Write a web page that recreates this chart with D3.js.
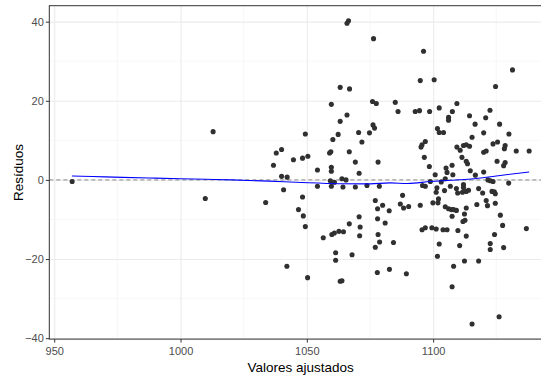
<!DOCTYPE html>
<html>
<head>
<meta charset="utf-8">
<script src="https://cdn.jsdelivr.net/npm/d3@7"></script>
<style>
  body { margin: 0; background: #fff; }
  svg { display: block; font-family: "Liberation Sans", Arial, sans-serif; }
</style>
</head>
<body>
<div id="residuos"></div>
<script>
const canvasWidth = 541
const canvasHeight = 378

// valores ajustados (x) e residuos (y)
const fitted = [
  957.1, 1009.8, 1012.9, 1049.4, 1062.4, 1060.3, 1040.0, 1037.9, 1059.0, 1059.5,
  1050.4, 1048.3, 1044.7, 1036.8, 1059.7, 1059.7, 1054.2, 1040.0, 1042.2, 1059.3,
  1060.9, 1054.2, 1059.7, 1040.8, 1048.3, 1033.7, 1046.7, 1048.6, 1049.4, 1056.5,
  1059.9, 1060.9, 1062.7, 1042.1, 1050.3, 1061.4, 1061.4, 1063.2, 1063.2, 1059.7,
  1063.2, 1065.9, 1066.5, 1076.4, 1096.2, 1066.9, 1094.9, 1100.4, 1076.0, 1077.5,
  1085.0, 1065.9, 1086.1, 1092.9, 1094.6, 1098.6, 1102.4, 1076.2, 1076.8, 1101.7,
  1070.5, 1074.8, 1071.8, 1066.8, 1096.9, 1095.6, 1095.2, 1102.4, 1104.1, 1096.5,
  1069.2, 1078.2, 1098.5, 1070.7, 1100.8, 1063.9, 1065.5, 1064.3, 1069.2, 1073.8,
  1078.7, 1095.8, 1096.9, 1098.9, 1101.2, 1087.9, 1102.1, 1077.1, 1080.0, 1087.0,
  1088.3, 1090.3, 1094.9, 1099.9, 1078.0, 1082.6, 1070.7, 1078.0, 1081.0, 1066.8,
  1071.1, 1064.5, 1070.9, 1078.2, 1095.6, 1096.9, 1099.5, 1101.2, 1078.8, 1084.3,
  1077.1, 1102.4, 1067.9, 1063.9, 1077.9, 1082.7, 1089.4, 1101.7, 1131.4, 1124.7,
  1109.4, 1107.6, 1106.1, 1106.1, 1114.4, 1116.6, 1120.8, 1122.5, 1126.3, 1120.0,
  1130.0, 1115.4, 1109.4, 1110.7, 1112.0, 1113.1, 1114.4, 1123.7, 1125.5, 1128.5,
  1128.2, 1132.9, 1138.0, 1120.0, 1121.0, 1111.4, 1113.1, 1113.6, 1125.3, 1128.5,
  1127.9, 1107.5, 1105.1, 1105.5, 1114.7, 1120.0, 1107.8, 1104.8, 1103.2, 1116.7,
  1121.7, 1122.6, 1123.7, 1129.9, 1106.8, 1112.0, 1112.0, 1109.2, 1101.5, 1118.0,
  1114.0, 1104.5, 1109.7, 1111.6, 1113.1, 1119.6, 1123.3, 1124.2, 1124.6, 1101.9,
  1117.3, 1121.0, 1121.5, 1124.6, 1104.8, 1106.1, 1107.2, 1108.1, 1109.2, 1113.1,
  1107.5, 1112.4, 1126.6, 1111.8, 1112.6, 1127.5, 1103.9, 1105.5, 1109.8, 1136.9,
  1113.1, 1124.3, 1110.5, 1122.6, 1122.6, 1127.9, 1108.1, 1112.4, 1118.0, 1107.5,
  1126.1, 1115.4
]

const residuals = [
  -0.4, -4.7, 12.2, 11.6, 11.5, 10.2, 7.7, 6.8, 6.8, 7.1,
  6.0, 5.5, 5.1, 3.7, 3.2, 2.2, 2.5, 0.9, 0.7, -0.2,
  -0.6, -1.6, -1.6, -2.5, -4.3, -5.7, -7.5, -9.1, -11.8, -14.6,
  -13.8, -13.4, -13.0, -21.8, -24.7, -18.4, -20.3, -25.6, 14.8, 19.1,
  23.4, 39.6, 40.2, 35.7, 32.5, 23.0, 25.1, 25.3, 19.8, 19.3,
  19.6, 16.4, 17.3, 17.3, 17.5, 17.3, 18.2, 13.9, 13.1, 13.0,
  12.0, 11.9, 9.6, 7.1, 9.7, 8.9, 8.3, 12.0, 12.0, 5.7,
  4.5, 4.5, 3.4, 1.7, 1.3, 0.3, 0.0, -1.8, -1.8, -1.4,
  -1.6, -1.4, -1.6, -0.4, -3.1, -3.9, -4.8, -5.2, -6.4, -6.1,
  -7.1, -6.7, -6.4, -5.8, -7.3, -7.8, -9.3, -9.8, -10.9, -11.1,
  -11.9, -13.1, -14.1, -13.8, -12.6, -12.1, -12.1, -12.4, -15.7, -15.8,
  -17.0, -16.2, -18.9, -25.5, -23.4, -22.6, -23.7, -19.3, 27.8, 23.6,
  19.3, 17.3, 15.8, 15.1, 16.2, 14.1, 15.7, 17.6, 14.1, 11.9,
  11.6, 10.8, 8.3, 7.5, 8.7, 8.9, 8.5, 9.1, 9.6, 8.7,
  7.9, 7.3, 7.3, 7.0, 7.3, 5.7, 4.7, 4.1, 4.7, 4.4,
  3.6, 3.7, 3.0, 1.9, 2.3, 2.0, 1.3, 0.3, -0.5, 1.2,
  0.0, -0.2, -0.4, -0.8, -1.6, -1.2, -1.9, -2.2, -2.0, -2.2,
  -2.6, -2.7, -3.3, -3.1, -2.9, -3.3, -2.9, -3.0, -3.5, -5.8,
  -6.2, -5.2, -6.5, -5.9, -6.8, -7.3, -7.5, -7.5, -7.7, -7.1,
  -9.2, -8.6, -8.9, -10.5, -10.2, -11.5, -12.6, -12.6, -12.8, -12.3,
  -14.2, -13.8, -16.6, -16.1, -17.6, -17.1, -21.8, -20.5, -20.5, -27.0,
  -34.6, -36.4
]

// curva loess (azul)
const smoothX = [957, 965, 977, 990, 1000, 1010, 1020, 1035, 1048, 1063, 1075, 1083, 1090, 1099, 1107, 1115, 1125, 1138]
const smoothY = [1.0, 0.85, 0.65, 0.45, 0.3, 0.15, 0.0, -0.3, -0.65, -0.95, -1.0, -0.75, -0.9, -0.4, -0.1, 0.25, 1.0, 2.0]

const xTicks = [950, 1000, 1050, 1100]
const xMinor = [975, 1025, 1075, 1125]
const yTicks = [-40, -20, 0, 20, 40]
const yMinor = [-30, -10, 10, 30]

const panel = { left: 49.3, top: 5.7, right: 552, bottom: 339.1 }

// expansao de 5% como no ggplot
const expand = ext => {
  const pad = (ext[1] - ext[0]) * 0.05
  return [ext[0] - pad, ext[1] + pad]
}

const x = d3.scaleLinear()
  .domain(expand(d3.extent(fitted)))
  .range([panel.left, panel.right])

const y = d3.scaleLinear()
  .domain(expand(d3.extent(residuals)))
  .range([panel.bottom, panel.top])

const svg = d3.select('#residuos')
  .append('svg')
  .attr('width', canvasWidth)
  .attr('height', canvasHeight)

svg.append('defs').append('clipPath')
  .attr('id', 'clip')
  .append('rect')
  .attr('x', panel.left)
  .attr('y', panel.top)
  .attr('width', panel.right - panel.left)
  .attr('height', panel.bottom - panel.top)

const grid = svg.append('g')

grid.selectAll('.xminor')
  .data(xMinor)
  .join('line')
  .attr('x1', d => x(d)).attr('x2', d => x(d))
  .attr('y1', panel.top).attr('y2', panel.bottom)
  .attr('stroke', '#f3f3f3')
  .attr('stroke-width', 0.7)

grid.selectAll('.yminor')
  .data(yMinor)
  .join('line')
  .attr('y1', d => y(d)).attr('y2', d => y(d))
  .attr('x1', panel.left).attr('x2', panel.right)
  .attr('stroke', '#f3f3f3')
  .attr('stroke-width', 0.7)

const xAxis = svg.append('g')
  .attr('transform', `translate(0, ${panel.bottom})`)
  .call(d3.axisBottom(x).tickValues(xTicks).tickSize(3.5).tickPadding(5).tickFormat(d3.format('d')))

const yAxis = svg.append('g')
  .attr('transform', `translate(${panel.left}, 0)`)
  .call(d3.axisLeft(y).tickValues(yTicks).tickSize(3.5).tickPadding(2))

// grade principal a partir das escalas
grid.append('g')
  .attr('transform', `translate(0, ${panel.top})`)
  .call(d3.axisBottom(x).tickValues(xTicks).tickSize(panel.bottom - panel.top).tickFormat(''))
  .call(g => g.select('.domain').remove())
  .selectAll('line')
  .attr('stroke', '#ebebeb')
  .attr('stroke-width', 1.1)

grid.append('g')
  .attr('transform', `translate(${panel.left}, 0)`)
  .call(d3.axisRight(y).tickValues(yTicks).tickSize(panel.right - panel.left).tickFormat(''))
  .call(g => g.select('.domain').remove())
  .selectAll('line')
  .attr('stroke', '#ebebeb')
  .attr('stroke-width', 1.1)

grid.selectAll('.tick text').remove()

;[xAxis, yAxis].forEach(ax => {
  ax.select('.domain').remove()
  ax.selectAll('.tick line').attr('stroke', '#333').attr('stroke-width', 1)
  ax.selectAll('.tick text')
    .attr('fill', '#4d4d4d')
    .style('font-size', '11px')
    .style('font-family', '"Liberation Sans", Arial, sans-serif')
})

const plot = svg.append('g').attr('clip-path', 'url(#clip)')

plot.append('line')
  .attr('x1', panel.left).attr('x2', panel.right)
  .attr('y1', y(0)).attr('y2', y(0))
  .attr('stroke', '#6e6e6e')
  .attr('stroke-width', 0.8)
  .attr('stroke-dasharray', '4,3')

plot.selectAll('circle')
  .data(fitted.map((f, i) => [f, residuals[i]]))
  .join('circle')
  .attr('cx', d => x(d[0]))
  .attr('cy', d => y(d[1]))
  .attr('r', 2.55)
  .attr('fill', '#303030')

const smoothLine = d3.line()
  .x(d => x(d[0]))
  .y(d => y(d[1]))
  .curve(d3.curveMonotoneX)

plot.append('path')
  .datum(smoothX.map((v, i) => [v, smoothY[i]]))
  .attr('d', smoothLine)
  .attr('fill', 'none')
  .attr('stroke', '#0000ff')
  .attr('stroke-width', 1.1)

svg.append('rect')
  .attr('x', panel.left)
  .attr('y', panel.top)
  .attr('width', panel.right - panel.left)
  .attr('height', panel.bottom - panel.top)
  .attr('fill', 'none')
  .attr('stroke', '#333')
  .attr('stroke-width', 1)

svg.append('text')
  .attr('x', (panel.left + panel.right) / 2)
  .attr('y', 371.5)
  .attr('text-anchor', 'middle')
  .style('font-size', '13.5px')
  .attr('fill', '#000')
  .text('Valores ajustados')

svg.append('text')
  .attr('transform', `translate(23, ${(panel.top + panel.bottom) / 2}) rotate(-90)`)
  .attr('text-anchor', 'middle')
  .style('font-size', '13.5px')
  .attr('fill', '#000')
  .text('Resíduos')
</script>
</body>
</html>
